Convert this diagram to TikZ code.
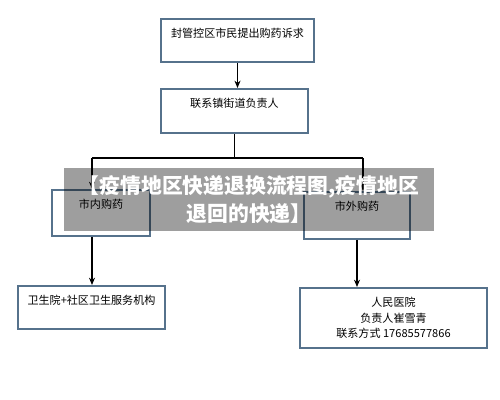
\documentclass[tikz,border=0pt]{standalone}
\usepackage{fontspec}
\newfontfamily\cjk{Noto Sans CJK SC}
\usetikzlibrary{arrows.meta}
\definecolor{boxblue}{HTML}{56728C}
\begin{document}
\begin{tikzpicture}[x=0.75pt,y=-0.75pt,
    flowbox/.style={draw=boxblue,line width=1.5pt,anchor=north west,
      inner xsep=0pt,inner ysep=0pt,text height=13.7pt,align=center,
      font=\cjk\fontsize{8.3}{11.6}\selectfont},
    flow/.style={draw=black,line width=0.9pt},
    arrow/.style={flow,-{Stealth[length=5.5pt,width=4.5pt]}},
    banner/.style={fill=black,fill opacity=0.38,text opacity=1,text=white,
      minimum width=277.5pt,minimum height=47.25pt,align=center,
      font=\cjk\bfseries\fontsize{15.6}{20.5}\selectfont}]

  \useasboundingbox (0,0) rectangle (500,400);

  % boxes
  \node[flowbox,minimum width=114.75pt,text depth=18.55pt] (fengguan) at (160,18) {封管控区市民提出购药诉求};
  \node[flowbox,minimum width=110.25pt,text depth=19.3pt]  (lianxi)   at (160,88) {联系镇街道负责人};
  \node[flowbox,minimum width=73.5pt,text depth=20.8pt]    (shinei)   at (51,189) {市内购药};
  \node[flowbox,minimum width=79.5pt,text depth=21.5pt]    (shiwai)   at (303,191) {市外购药};
  \node[flowbox,minimum width=110.25pt,text depth=18.55pt] (weisheng) at (17,285) {卫生院+社区卫生服务机构};
  \node[flowbox,minimum width=140.25pt,minimum height=45pt,text height=,text depth=] (renmin) at (299,287)
    {人民医院\\负责人崔雪青\\联系方式 17685577866};

  % junction
  \coordinate (jl) at (92,158);
  \coordinate (jr) at (363,158);

  % connectors
  \draw[arrow] (fengguan.south) -- (fengguan.south |- lianxi.north);
  \draw[flow]  (lianxi.south) -- (lianxi.south |- jl);
  \draw[flow]  (jl) -- (jr);
  \draw[arrow] (jl) -- (jl |- shinei.north);
  \draw[arrow] (jr) -- (jr |- shiwai.north);
  \draw[arrow] (shinei.south -| jl) -- (jl |- weisheng.north);
  \draw[arrow] (shiwai.south) -- (shiwai.south |- renmin.north);

  % title banner
  \node[banner] (title) at (249,199.5) {【疫情地区快递退换流程图,疫情地区\\退回的快递】};

\end{tikzpicture}
\end{document}
